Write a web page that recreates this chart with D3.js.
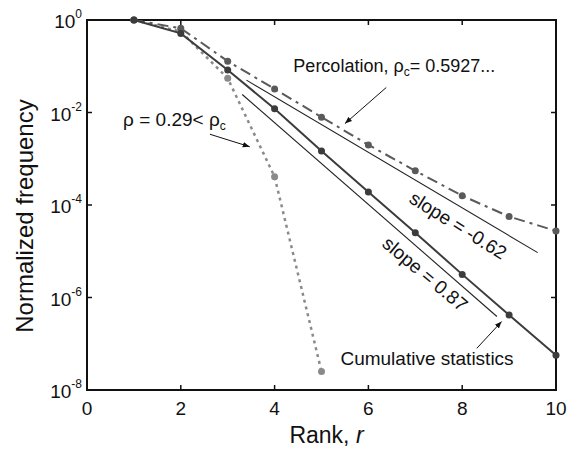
<!DOCTYPE html>
<meta charset="utf-8">
<style>
    body { margin: 0; background: #fff; font-family: "Liberation Sans", Arial, sans-serif; }
    svg text { font-family: "Liberation Sans", Arial, sans-serif; fill: #111; }
</style>
<script src="https://d3js.org/d3.v7.min.js"></script>
<div id="chart"></div>
<script>

    // ranks and normalized frequencies (log10 values)
    var ranks = [1, 2, 3, 4, 5, 6, 7, 8, 9, 10];
    var cumulative = [0, -0.29, -1.08, -1.92, -2.83, -3.72, -4.6, -5.5, -6.38, -7.25];
    var percolation = [0, -0.18, -0.89, -1.49, -2.1, -2.7, -3.26, -3.8, -4.25, -4.56];
    var lowRanks = [1, 2, 3, 4, 5];
    var lowDensity = [0, -0.25, -1.26, -3.39, -7.6];

    // fitted slope lines: [rank, log10 value] endpoints
    var fit062 = [[3.4, -1.30], [9.61, -5.03]];
    var fit087 = [[3.31, -1.61], [8.74, -6.41]];

    var xTicks = [0, 2, 4, 6, 8, 10];
    var yExps = [0, -2, -4, -6, -8];

    var margin = {top: 20, right: 22, bottom: 60, left: 87},
        width = 578 - margin.left - margin.right,
        height = 450 - margin.top - margin.bottom;

    var svg = d3.select("#chart")
        .append("svg")
        .attr("width", 578)
        .attr("height", 450)
        .append("g")
        .attr("transform", "translate(" + margin.left + "," + margin.top + ")");

    var x = d3.scaleLinear().domain([0, 10]).range([0, width]);
    var y = d3.scaleLog().domain([1e-8, 1]).range([height, 0]);

    function pow(e) { return Math.pow(10, e); }

    // frame
    svg.append("rect")
        .attr("width", width).attr("height", height)
        .attr("fill", "none").attr("stroke", "#111").attr("stroke-width", 2);

    // ticks inside on all four sides
    xTicks.forEach(function (t) {
        if (t === 0 || t === 10) return;
        svg.append("line").attr("x1", x(t)).attr("x2", x(t)).attr("y1", height).attr("y2", height - 5)
            .attr("stroke", "#111").attr("stroke-width", 1.5);
        svg.append("line").attr("x1", x(t)).attr("x2", x(t)).attr("y1", 0).attr("y2", 5)
            .attr("stroke", "#111").attr("stroke-width", 1.5);
    });
    yExps.forEach(function (e) {
        if (e === 0 || e === -8) return;
        svg.append("line").attr("x1", 0).attr("x2", 5).attr("y1", y(pow(e))).attr("y2", y(pow(e)))
            .attr("stroke", "#111").attr("stroke-width", 1.5);
        svg.append("line").attr("x1", width).attr("x2", width - 5).attr("y1", y(pow(e))).attr("y2", y(pow(e)))
            .attr("stroke", "#111").attr("stroke-width", 1.5);
    });

    // tick labels
    svg.selectAll(".xlab")
        .data(xTicks)
        .enter().append("text")
        .attr("x", function (d) { return x(d); })
        .attr("y", height + 25)
        .attr("text-anchor", "middle")
        .style("font-size", "19px")
        .text(function (d) { return d; });

    yExps.forEach(function (e) {
        var t = svg.append("text")
            .attr("x", -5)
            .attr("y", y(pow(e)) + 8)
            .attr("text-anchor", "end")
            .style("font-size", "19px");
        t.append("tspan").text("10");
        t.append("tspan").attr("dy", -10).style("font-size", "12px").text(e);
    });

    // axis titles
    svg.append("text")
        .attr("x", width / 2 + 5)
        .attr("y", height + 53)
        .attr("text-anchor", "middle")
        .style("font-size", "23px")
        .html("Rank, <tspan font-style='italic'>r</tspan>");

    svg.append("text")
        .attr("transform", "translate(" + (-54) + "," + (height / 2 + 11) + ") rotate(-90)")
        .attr("text-anchor", "middle")
        .style("font-size", "24px")
        .text("Normalized frequency");

    // fitted slope lines
    var fitLine = d3.line()
        .x(function (d) { return x(d[0]); })
        .y(function (d) { return y(pow(d[1])); });

    [fit062, fit087].forEach(function (f) {
        svg.append("path").attr("d", fitLine(f))
            .attr("fill", "none").attr("stroke", "#222").attr("stroke-width", 1.1);
    });

    function drawSeries(xs, ys, color, dash, sw) {
        var pts = xs.map(function (r, i) { return [r, ys[i]]; });
        svg.append("path")
            .attr("d", fitLine(pts))
            .attr("fill", "none")
            .attr("stroke", color)
            .attr("stroke-width", sw)
            .attr("stroke-dasharray", dash);
        svg.selectAll(null)
            .data(pts)
            .enter().append("circle")
            .attr("cx", function (d) { return x(d[0]); })
            .attr("cy", function (d) { return y(pow(d[1])); })
            .attr("r", 3.5)
            .attr("fill", color);
    }

    drawSeries(lowRanks, lowDensity, "#8a8a8a", "3,4", 2.5);
    drawSeries(ranks, percolation, "#5a5a5a", "11,5,3,5", 2);
    drawSeries(ranks, cumulative, "#3c3c3c", null, 2);

    // annotations
    var defs = d3.select("svg").append("defs");
    defs.append("marker")
        .attr("id", "arrow")
        .attr("viewBox", "0 0 10 10")
        .attr("refX", 10).attr("refY", 5)
        .attr("markerWidth", 7).attr("markerHeight", 7)
        .attr("orient", "auto")
        .append("path").attr("d", "M0,1 L10,5 L0,9 z").attr("fill", "#111");

    function arrow(x1, y1, x2, y2) {
        svg.append("line")
            .attr("x1", x(x1)).attr("y1", y(pow(y1)))
            .attr("x2", x(x2)).attr("y2", y(pow(y2)))
            .attr("stroke", "#111").attr("stroke-width", 1)
            .attr("marker-end", "url(#arrow)");
    }

    svg.append("text")
        .attr("x", x(4.4)).attr("y", y(pow(-1.12)))
        .style("font-size", "18px")
        .html("Percolation, &#961;<tspan dy='4' font-size='12px'>c</tspan><tspan dy='-4'>= 0.5927...</tspan>");
    arrow(6.38, -1.46, 5.5, -2.24);

    svg.append("text")
        .attr("x", x(0.77)).attr("y", y(pow(-2.29)))
        .style("font-size", "19px")
        .html("&#961; = 0.29&lt; &#961;<tspan dy='4' font-size='12px'>c</tspan>");
    arrow(2.62, -2.47, 3.47, -2.74);

    svg.append("text")
        .attr("transform", "translate(" + x(7.84) + "," + y(pow(-4.56)) + ") rotate(32)")
        .attr("text-anchor", "middle")
        .style("font-size", "19px")
        .text("slope = -0.62");

    svg.append("text")
        .attr("transform", "translate(" + x(7.12) + "," + y(pow(-5.6)) + ") rotate(40)")
        .attr("text-anchor", "middle")
        .style("font-size", "19px")
        .text("slope = 0.87");

    svg.append("text")
        .attr("x", x(7.25)).attr("y", y(pow(-7.46)))
        .attr("text-anchor", "middle")
        .style("font-size", "19px")
        .text("Cumulative statistics");
    arrow(8.31, -7.1, 8.84, -6.52);

</script>
